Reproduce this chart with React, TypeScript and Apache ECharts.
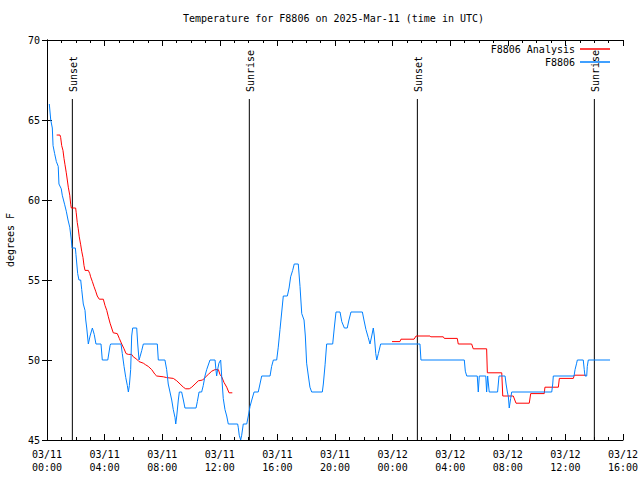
import React, { useEffect, useRef } from "react";
import * as echarts from "echarts";

const chartTitle = "Temperature for F8806 on 2025-Mar-11 (time in UTC)";
const yAxisName = "degrees F";
const blueName = "F8806";
const redName = "F8806 Analysis";

// hours since 03/11 00:00 UTC
const blueHours = [
  0.16, 0.26, 0.37, 0.42, 0.53, 0.65, 0.78, 0.83, 0.99, 1.06, 1.23, 1.34, 1.46, 1.58, 1.69, 1.74,
  1.97, 2.01, 2.13, 2.22, 2.34, 2.41, 2.52, 2.64, 2.69, 2.76, 2.87, 2.99, 3.15, 3.28, 3.4, 3.75,
  3.84, 4.22, 4.38, 4.42, 5.14, 5.23, 5.35, 5.47, 5.58, 5.65, 5.72, 5.81, 5.88, 5.95, 6.23, 6.3,
  6.39, 6.46, 6.58, 6.69, 7.66, 7.73, 8.19, 8.31, 8.42, 8.54, 8.66, 8.77, 8.89, 8.94, 9.01, 9.12,
  9.19, 9.35, 9.47, 9.58, 10.35, 10.44, 10.56, 10.74, 10.85, 10.97, 11.09, 11.32, 11.67, 11.72,
  11.78, 11.85, 11.94, 12.06, 12.13, 12.24, 12.36, 12.48, 12.59, 13.24, 13.28, 13.35, 13.45, 13.52,
  13.63, 13.87, 13.98, 14.1, 14.22, 14.38, 14.67, 14.79, 14.91, 15.49, 15.6, 15.72, 15.95, 16.06,
  16.18, 16.3, 16.41, 16.69, 16.81, 16.92, 17.06, 17.17, 17.45, 17.57, 17.69, 17.85, 17.94, 18.03,
  18.15, 18.26, 18.38, 19.12, 19.19, 19.31, 19.42, 19.84, 19.95, 20.07, 20.35, 20.47, 20.65, 20.85,
  20.97, 21.11, 21.9, 22.01, 22.15, 22.31, 22.43, 22.55, 22.66, 22.73, 22.83, 22.9, 23.01, 23.17,
  25.9, 25.97, 28.98, 29.05, 29.15, 29.88, 29.95, 30.02, 30.47, 30.53, 30.6, 30.71, 31.29, 31.39,
  31.81, 31.88, 31.97, 32.04, 32.1, 32.2, 32.27, 35.05, 35.12, 35.16, 36.6, 36.67, 36.78, 36.83,
  37.24, 37.31, 37.36, 37.48, 37.52, 37.59, 39.1,
];
const blueTemps = [
  66.0, 65.0, 64.5, 63.4, 62.9, 62.4, 62.1, 61.0, 60.7, 60.3, 59.7, 59.3, 58.75, 58.3, 57.5, 57.0,
  57.0, 56.6, 55.4, 55.0, 55.0, 54.4, 53.5, 53.1, 52.5, 52.0, 51.0, 51.5, 52.0, 51.6, 51.0, 51.0,
  50.0, 50.0, 50.9, 51.0, 51.0, 50.4, 49.6, 48.9, 48.4, 48.0, 48.4, 49.4, 51.5, 52.0, 52.0, 51.0,
  50.0, 50.2, 50.6, 51.0, 51.0, 50.0, 50.0, 49.4, 48.5, 48.0, 47.5, 46.9, 46.4, 46.0, 46.5, 47.5,
  48.0, 48.0, 47.5, 47.0, 47.0, 47.4, 48.0, 48.0, 48.4, 49.0, 49.4, 50.0, 50.0, 49.5,
  49.0, 49.4, 49.8, 50.0, 49.0, 47.6, 46.9, 46.5, 46.0, 46.0, 45.8, 45.3, 45.0, 45.3,
  46.0, 46.0, 46.5, 47.1, 47.5, 48.0, 48.0, 48.5, 49.0, 49.0, 49.6, 50.0, 50.0, 50.8,
  51.9, 53.0, 54.0, 54.0, 54.5, 55.2, 55.6, 56.0, 56.0, 54.6, 52.9, 52.5, 51.5, 49.8,
  49.0, 48.3, 48.0, 48.0, 48.5, 49.7, 51.0, 51.0, 52.0, 53.0, 53.0, 52.4, 52.0, 52.0,
  52.5, 53.0, 53.0, 52.5, 51.9, 51.4, 51.0, 51.5, 52.0, 51.5, 50.4, 50.0, 50.4, 51.0,
  51.0, 50.0, 50.0, 49.3, 49.0, 49.0, 48.0, 49.0, 49.0, 48.0, 49.0, 48.0, 48.0, 49.0,
  49.0, 48.5, 48.0, 47.7, 47.0, 47.6, 48.0, 48.0, 48.5, 49.0, 49.0, 49.4, 49.8, 50.0,
  50.0, 49.4, 49.0, 49.0, 49.6, 50.0, 50.0,
];

const redHours = [
  0.67, 0.9, 0.95, 1.02, 1.11, 1.18, 1.25, 1.34, 1.41, 1.48, 1.58, 1.65, 1.69, 1.99, 2.03, 2.1,
  2.17, 2.24, 2.34, 2.41, 2.5, 2.57, 2.64, 2.87, 2.97, 3.03, 3.15, 3.26, 3.38, 3.49, 3.63, 3.91,
  4.03, 4.15, 4.26, 4.38, 4.49, 4.6, 4.88, 5.02, 5.19, 5.35, 5.49, 5.65, 5.88, 5.99, 6.23, 6.39,
  6.69, 6.85, 7.03, 7.27, 7.5, 7.62, 8.08, 8.31, 8.77, 9.01, 9.24, 9.47, 9.63, 9.88, 10.05, 10.28,
  10.51, 10.81, 10.97, 11.2, 11.44, 11.67, 11.9, 12.01, 12.13, 12.29, 12.48, 12.64, 12.87,
  18.0,
  23.96, 24.51, 24.58, 25.49, 25.63, 26.6, 26.65, 27.52, 27.59, 28.49, 28.56, 29.49, 29.6, 30.53,
  30.58, 31.58, 31.65, 32.38, 32.57, 33.49, 33.59, 34.53, 34.58, 35.51, 35.58, 36.55, 36.62, 37.43,
];
const redTemps: (number | null)[] = [
  64.06, 64.06, 63.9, 63.4, 63.1, 62.6, 62.2, 61.7, 61.25, 60.8, 60.3, 59.7, 59.5, 59.5, 59.2, 58.6,
  58.2, 57.7, 57.2, 56.8, 56.4, 55.9, 55.6, 55.6, 55.4, 55.2, 54.9, 54.6, 54.3, 54.0, 53.8, 53.8,
  53.4, 53.1, 52.7, 52.3, 52.0, 51.7, 51.65, 51.35, 51.0, 50.7, 50.4, 50.35, 50.35, 50.2, 50.05, 49.9,
  49.8, 49.7, 49.6, 49.4, 49.1, 49.0, 48.95, 48.9, 48.85, 48.7, 48.5, 48.3, 48.2, 48.2, 48.3, 48.5,
  48.7, 48.75, 48.9, 49.1, 49.3, 49.4, 49.4, 49.1, 48.95, 48.6, 48.3, 47.95, 47.95,
  null,
  51.15, 51.15, 51.3, 51.3, 51.5, 51.5, 51.45, 51.45, 51.35, 51.35, 51.0, 51.0, 50.7, 50.7,
  49.2, 49.2, 47.75, 47.75, 47.3, 47.3, 47.9, 47.9, 48.3, 48.3, 48.85, 48.85, 49.05, 49.05,
];

const sunHours = [1.76, 14.05, 25.72, 38.01];
const sunLabels = ["Sunset", "Sunrise", "Sunset", "Sunrise"];

export default function App() {
  const ref = useRef<HTMLDivElement>(null);
  useEffect(() => {
    const chart = echarts.init(ref.current!, null, { renderer: "svg" });
    const font = "DejaVu Sans Mono";
    const pad = (n: number) => String(n).padStart(2, "0");
    const fmt = (v: number) => {
      const d = 11 + Math.floor(v / 24);
      const h = Math.round(v % 24);
      return `03/${pad(d)}\n${pad(h)}:00`;
    };
    const black = "#000";
    const xCommon = {
      type: "value" as const,
      min: 0,
      max: 40,
      interval: 4,
      axisLine: { show: true, lineStyle: { color: black, width: 1 } },
      axisTick: { show: true, inside: true, length: 6, lineStyle: { color: black } },
      minorTick: { show: true, splitNumber: 4, length: 3, lineStyle: { color: black } },
      splitLine: { show: false },
      minorSplitLine: { show: false },
    };
    const yCommon = {
      type: "value" as const,
      min: 45,
      max: 70,
      interval: 5,
      axisLine: { show: true, lineStyle: { color: black, width: 1 } },
      axisTick: { show: true, inside: true, length: 5, lineStyle: { color: black } },
      splitLine: { show: false },
    };
    chart.setOption({
      animation: false,
      backgroundColor: "#fff",
      title: {
        text: chartTitle,
        left: 183,
        top: 13,
        padding: 0,
        textStyle: { fontFamily: font, fontSize: 10, fontWeight: "normal", color: black },
      },
      legend: {
        orient: "vertical",
        right: 30,
        top: 43,
        padding: 0,
        align: "right",
        icon: "rect",
        itemWidth: 30,
        itemHeight: 1.5,
        itemGap: 1,
        data: [redName, blueName],
        textStyle: { fontFamily: font, fontSize: 10, color: black, lineHeight: 12 },
      },
      grid: {
        left: 47,
        right: 17,
        top: 40,
        bottom: 40,
        containLabel: false,
        outerBoundsMode: "none",
      },
      xAxis: [
        {
          ...xCommon,
          position: "bottom",
          axisLabel: {
            formatter: fmt,
            color: black,
            fontFamily: font,
            fontSize: 10,
            lineHeight: 13,
            margin: 8,
            showMinLabel: true,
            showMaxLabel: true,
          },
        },
        { ...xCommon, position: "top", axisLabel: { show: false } },
      ],
      yAxis: [
        {
          ...yCommon,
          position: "left",
          axisLabel: { color: black, fontFamily: font, fontSize: 10, margin: 7 },
          name: yAxisName,
          nameLocation: "middle",
          nameGap: 32,
          nameRotate: 90,
          nameTextStyle: { fontFamily: font, fontSize: 10, color: black },
        },
        { ...yCommon, position: "right", axisLabel: { show: false } },
      ],
      series: [
        {
          type: "custom",
          name: "sun",
          silent: true,
          z: 1,
          data: sunHours.map((h) => [h, 45]),
          renderItem: (params: any, api: any) => {
            const x = api.value(0);
            const bot = api.coord([x, 45]);
            const topY = api.coord([x, 70])[1];
            return {
              type: "group",
              children: [
                {
                  type: "line",
                  shape: { x1: bot[0], y1: topY + 59, x2: bot[0], y2: bot[1] },
                  style: { stroke: black, lineWidth: 1 },
                },
                {
                  type: "text",
                  x: bot[0] + 1,
                  y: topY + 52,
                  rotation: Math.PI / 2,
                  style: {
                    text: sunLabels[params.dataIndex],
                    fill: black,
                    font: `10px "${font}"`,
                    align: "left",
                    verticalAlign: "middle",
                  },
                },
              ],
            };
          },
        },
        {
          type: "line",
          name: redName,
          z: 2,
          symbol: "none",
          connectNulls: false,
          color: "#ff0000",
          lineStyle: { width: 1, color: "#ff0000" },
          data: redHours.map((h, i) => [h, redTemps[i] === null ? "-" : redTemps[i]]),
        },
        {
          type: "line",
          name: blueName,
          z: 3,
          symbol: "none",
          color: "#0080ff",
          lineStyle: { width: 1, color: "#0080ff" },
          data: blueHours.map((h, i) => [h, blueTemps[i]]),
        },
      ],
    });
    return () => chart.dispose();
  }, []);
  return (
    <div
      ref={ref}
      style={{ position: "absolute", left: 0, top: 0, width: 640, height: 480 }}
    />
  );
}
